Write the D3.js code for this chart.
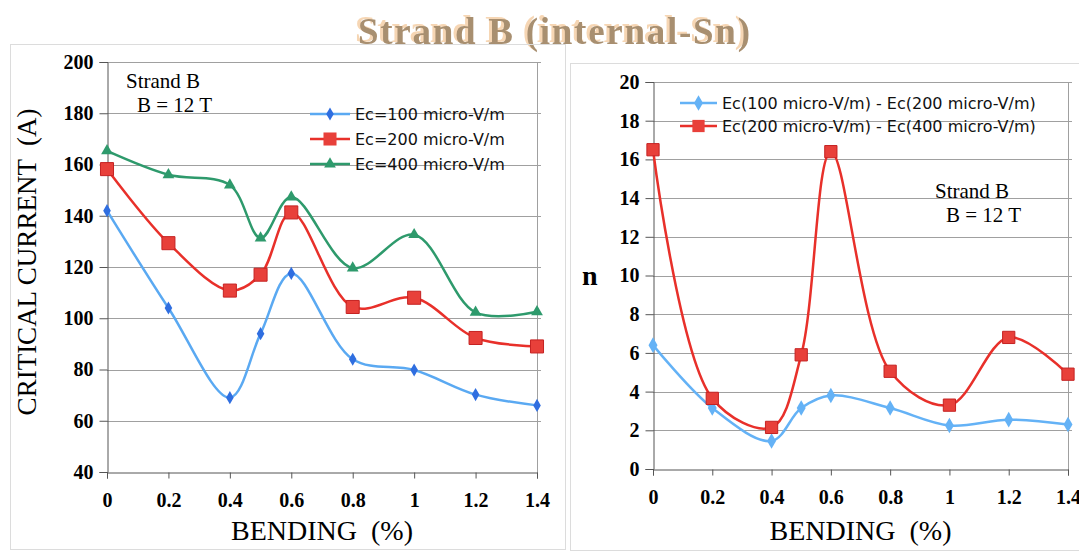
<!DOCTYPE html>
<html>
<head>
<meta charset="utf-8">
<script src="https://cdn.jsdelivr.net/npm/d3@7"></script>
<style>
    body { margin: 0; background: #fff; }
    svg { display: block; }
</style>
</head>
<body>
<div id="chart"></div>
<script>
// Chart data
const bending = [0, 0.2, 0.4, 0.5, 0.6, 0.8, 1.0, 1.2, 1.4];
const ec100 = [142, 104, 69, 94, 117.5, 84, 79.8, 70.2, 66];
const ec200 = [158.2, 129.3, 110.8, 117, 141.3, 104.4, 108, 92.3, 89];
const ec400 = [165.3, 156, 152, 131.3, 147.3, 119.6, 132.6, 102.3, 102.5];
const n100to200 = [6.4, 3.15, 1.45, 3.15, 3.8, 3.15, 2.25, 2.55, 2.3];
const n200to400 = [16.5, 3.65, 2.15, 5.9, 16.4, 5.05, 3.3, 6.8, 4.9];

const xTicks = [0, 0.2, 0.4, 0.6, 0.8, 1, 1.2, 1.4];
const icTicks = [40, 60, 80, 100, 120, 140, 160, 180, 200];
const nTicks = [0, 2, 4, 6, 8, 10, 12, 14, 16, 18, 20];

const leftLegend = ["Ec=100 micro-V/m", "Ec=200 micro-V/m", "Ec=400 micro-V/m"];
const rightLegend = ["Ec(100 micro-V/m) - Ec(200 micro-V/m)", "Ec(200 micro-V/m) - Ec(400 micro-V/m)"];

const width = 1079;
const height = 552;
const serif = "'Liberation Serif', 'Times New Roman', serif";
const sans = "'DejaVu Sans', Verdana, sans-serif";

const svg = d3.select("#chart")
    .append("svg")
    .attr("width", width)
    .attr("height", height);

svg.append("rect").attr("width", width).attr("height", height).attr("fill", "#fff");

// Peach offset shadow for the title
const shadow = svg.append("defs").append("filter")
    .attr("id", "titleShadow")
    .attr("x", "-10%").attr("y", "-30%").attr("width", "120%").attr("height", "160%");
shadow.append("feFlood").attr("flood-color", "#f6d6b4").attr("result", "peach");
shadow.append("feComposite").attr("in", "peach").attr("in2", "SourceAlpha").attr("operator", "in").attr("result", "shape");
shadow.append("feOffset").attr("in", "shape").attr("dx", -3).attr("dy", -2).attr("result", "moved");
const merge = shadow.append("feMerge");
merge.append("feMergeNode").attr("in", "moved");
merge.append("feMergeNode").attr("in", "SourceGraphic");

svg.append("text")
    .attr("x", 554).attr("y", 44)
    .attr("text-anchor", "middle")
    .attr("font-family", serif).attr("font-weight", "bold").attr("font-size", 37)
    .attr("textLength", 392)
    .attr("fill", "#a88f70")
    .attr("filter", "url(#titleShadow)")
    .text("Strand B (internal-Sn)");

// Panel frames
svg.append("rect").attr("x", 10.5).attr("y", 44.5).attr("width", 555).attr("height", 505)
    .attr("fill", "none").attr("stroke", "#dcdcdc");
svg.append("rect").attr("x", 570.5).attr("y", 63.5).attr("width", 520).attr("height", 487)
    .attr("fill", "none").attr("stroke", "#dcdcdc");

const curve = d3.curveCatmullRom.alpha(0.5);

function drawPanel(cfg) {
    const x = d3.scaleLinear().domain([0, 1.4]).range([cfg.left, cfg.right]);
    const y = d3.scaleLinear().domain(cfg.yDomain).range([cfg.bottom, cfg.top]);
    const g = svg.append("g");

    // Gridlines
    g.append("g")
        .selectAll("line")
        .data(cfg.yTicks.slice(1))
        .enter().append("line")
        .attr("x1", cfg.left).attr("x2", cfg.right + 4)
        .attr("y1", d => Math.round(y(d)) + 0.5).attr("y2", d => Math.round(y(d)) + 0.5)
        .attr("stroke", "#a0a0a0").attr("stroke-width", 1);

    // Right border of plot
    g.append("line")
        .attr("x1", cfg.right + 0.5).attr("x2", cfg.right + 0.5)
        .attr("y1", cfg.top).attr("y2", cfg.bottom + 6)
        .attr("stroke", "#a0a0a0");

    // Axes
    const yAxis = g.append("g")
        .attr("transform", `translate(${cfg.left + 0.5},0)`)
        .call(d3.axisLeft(y).tickValues(cfg.yTicks).tickSize(8).tickPadding(6).tickFormat(d3.format("d")));
    const xAxis = g.append("g")
        .attr("transform", `translate(0,${cfg.bottom + 0.5})`)
        .call(d3.axisBottom(x).tickValues(xTicks).tickSize(6).tickPadding(14).tickFormat(d3.format("")));
    [yAxis, xAxis].forEach(a => {
        a.select(".domain").attr("stroke", "#555");
        a.selectAll(".tick line").attr("stroke", "#555");
        a.selectAll("text")
            .attr("font-family", serif).attr("font-weight", "bold").attr("font-size", 20)
            .attr("fill", "#000");
    });

    // Series
    cfg.series.forEach(s => {
        const pts = bending.map((b, i) => [b, s.values[i]]);
        g.append("path")
            .datum(pts)
            .attr("fill", "none")
            .attr("stroke", s.color)
            .attr("stroke-width", 2.5)
            .attr("d", d3.line().x(d => x(d[0])).y(d => y(d[1])).curve(curve));
        g.append("g")
            .selectAll("path")
            .data(pts)
            .enter().append("path")
            .attr("transform", d => `translate(${x(d[0])},${y(d[1])})`)
            .attr("d", d3.symbol().type(s.symbol).size(s.size))
            .attr("fill", s.marker)
            .attr("stroke", s.markerStroke || "none");
    });

    // Legend
    const leg = g.append("g");
    cfg.series.forEach((s, i) => {
        const ly = cfg.legend.y + i * cfg.legend.step;
        leg.append("line")
            .attr("x1", cfg.legend.x1).attr("x2", cfg.legend.x2)
            .attr("y1", ly).attr("y2", ly)
            .attr("stroke", s.color).attr("stroke-width", 2.5);
        leg.append("path")
            .attr("transform", `translate(${(cfg.legend.x1 + cfg.legend.x2) / 2},${ly})`)
            .attr("d", d3.symbol().type(s.symbol).size(s.size))
            .attr("fill", s.marker);
        leg.append("text")
            .attr("x", cfg.legend.x2 + 5).attr("y", ly + 6)
            .attr("font-family", sans).attr("font-size", 16)
            .attr("fill", "#111")
            .text(cfg.legendLabels[i]);
    });

    // Strand annotation
    g.append("text").attr("x", cfg.note.x).attr("y", cfg.note.y)
        .attr("font-family", serif).attr("font-size", 21).text("Strand B");
    g.append("text").attr("x", cfg.note.x + 11).attr("y", cfg.note.y + 24)
        .attr("font-family", serif).attr("font-size", 21).text("B = 12 T");

    // Axis title
    g.append("text")
        .attr("x", (cfg.left + cfg.right) / 2).attr("y", 540)
        .attr("text-anchor", "middle")
        .attr("font-family", serif).attr("font-size", 28)
        .attr("xml:space", "preserve")
        .text("BENDING  (%)");
    return g;
}

// Left: critical current
const left = drawPanel({
    left: 107, right: 537, top: 62, bottom: 472,
    yDomain: [40, 200], yTicks: icTicks,
    series: [
        { values: ec100, color: "#5aa9f2", marker: "#2f6ee0", symbol: d3.symbolDiamond, size: 50 },
        { values: ec200, color: "#e8302a", marker: "#e8403a", markerStroke: "#c52222", symbol: d3.symbolSquare, size: 170 },
        { values: ec400, color: "#2e9a6c", marker: "#2e9a6c", symbol: d3.symbolTriangle, size: 60 }
    ],
    legendLabels: leftLegend,
    legend: { x1: 310, x2: 350, y: 114, step: 25 },
    note: { x: 126, y: 88 }
});
left.append("text")
    .attr("transform", "translate(36,262) rotate(-90)")
    .attr("text-anchor", "middle")
    .attr("font-family", serif).attr("font-size", 27)
    .attr("xml:space", "preserve")
    .text("CRITICAL CURRENT  (A)");

// Right: n-value
const right = drawPanel({
    left: 653, right: 1068, top: 82, bottom: 469,
    yDomain: [0, 20], yTicks: nTicks,
    series: [
        { values: n100to200, color: "#64b2f6", marker: "#64b2f6", symbol: d3.symbolDiamond, size: 70 },
        { values: n200to400, color: "#e8302a", marker: "#e8403a", markerStroke: "#c52222", symbol: d3.symbolSquare, size: 150 }
    ],
    legendLabels: rightLegend,
    legend: { x1: 680, x2: 717, y: 103, step: 23 },
    note: { x: 935, y: 198 }
});
right.append("text")
    .attr("x", 582).attr("y", 285)
    .attr("font-family", serif).attr("font-weight", "bold").attr("font-size", 28)
    .text("n");
</script>
</body>
</html>
